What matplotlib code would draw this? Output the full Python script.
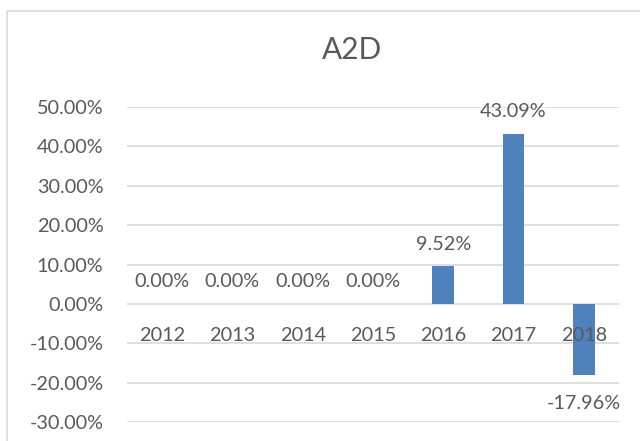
import matplotlib
matplotlib.use("Agg")
import matplotlib.pyplot as plt
from matplotlib.patches import Rectangle
from matplotlib.ticker import FuncFormatter

categories = ["2012", "2013", "2014", "2015", "2016", "2017", "2018"]
values = [0.0, 0.0, 0.0, 0.0, 9.52, 43.09, -17.96]
yticks = [-30, -20, -10, 0, 10, 20, 30, 40, 50]
title = "A2D"

plt.rcParams['font.family'] = ['Lato', 'DejaVu Sans']
gray = "#595959"
grid = "#d9d9d9"
blue = "#4f81bd"
fs = 14.3

fig = plt.figure(figsize=(6.4, 4.41), dpi=100)
fig.patches.append(Rectangle((7/640, -0.1), 1.2, 1 - 11/441 + 0.1, transform=fig.transFigure,
                             fill=False, edgecolor=grid, linewidth=1.2))
ax = fig.add_axes([127/640, 1 - 422/441, (619-127)/640, (422-107)/441])

x = list(range(len(categories)))
ax.bar(x, values, width=0.31, color=blue, zorder=3)
ax.set_xlim(-0.5, len(categories) - 0.5)
ax.set_ylim(-30, 50)
ax.set_yticks(yticks)
ax.yaxis.set_major_formatter(FuncFormatter(lambda v, p: f"{v:.2f}%"))
ax.tick_params(axis='y', length=0, pad=17, labelsize=fs, labelcolor=gray)
ax.set_xticks([])
ax.grid(axis='y', color=grid, linewidth=1.2, zorder=0)
for s in ax.spines.values():
    s.set_visible(False)

for xi, v, c in zip(x, values, categories):
    if v >= 0:
        ax.annotate(f"{v:.2f}%", (xi, v), xytext=(0, 10), textcoords='offset points',
                    ha='center', va='bottom', fontsize=fs, color=gray, zorder=4)
    else:
        ax.annotate(f"{v:.2f}%", (xi, v), xytext=(0, -15), textcoords='offset points',
                    ha='center', va='top', fontsize=fs, color=gray, zorder=4)
    ax.annotate(c, (xi, 0), xytext=(0, -23), textcoords='offset points',
                ha='center', va='center', fontsize=fs, color=gray, zorder=5)

fig.text(352/640, 1 - 50/441, title, ha='center', va='center', fontsize=21.5, color=gray)

fig.savefig("out.png", dpi=100)
